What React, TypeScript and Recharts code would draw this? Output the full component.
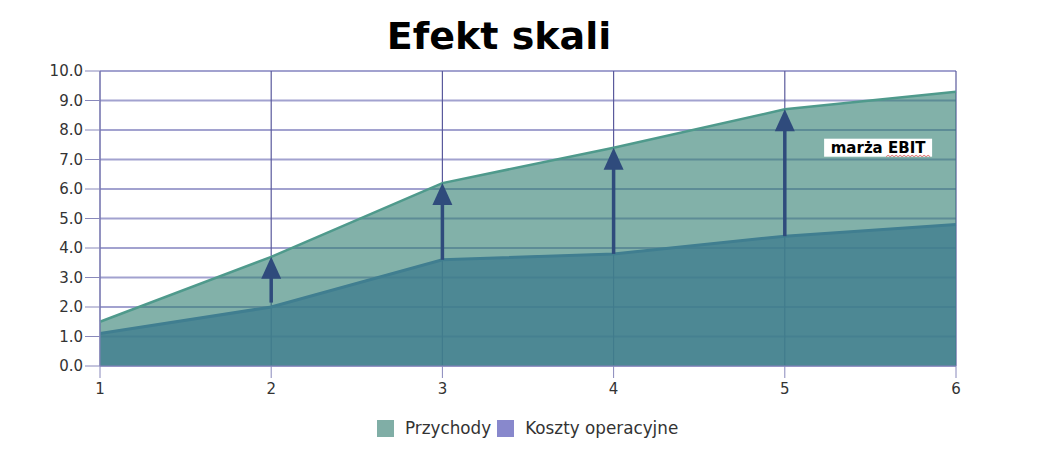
import {
  ComposedChart, Area, XAxis, YAxis, CartesianGrid,
  ReferenceLine, ReferenceDot,
} from 'recharts'

// Values.
const years = [1, 2, 3, 4, 5, 6]
const przychody = [1.5, 3.7, 6.2, 7.4, 8.7, 9.3]
const koszty = [1.1, 2.0, 3.6, 3.8, 4.4, 4.8]
const yTicks = [0, 1, 2, 3, 4, 5, 6, 7, 8, 9, 10]

// Margin arrows: drawn from the cost level up to revenue.
const arrowX = [2, 3, 4, 5]
const arrowFrom = [2.15, 3.6, 3.8, 4.4]
const arrowTo = [3.7, 6.2, 7.4, 8.7]

const FONT = '"DejaVu Sans", Verdana, sans-serif'
const ARROW = '#2f4b7c'

const data = years.map((x, i) => ({ x, przychody: przychody[i], koszty: koszty[i] }))

const legendItems = [
  { label: 'Przychody', color: '#80aea6' },
  { label: 'Koszty operacyjne', color: '#8888cc' },
]

function ArrowHead(props: any) {
  const { cx, cy } = props
  if (cx == null || cy == null) return null
  return <path d={`M${cx},${cy} L${cx - 10},${cy + 22} L${cx + 10},${cy + 22} Z`} fill={ARROW} />
}

function EbitLabel(props: any) {
  const { cx, cy } = props
  if (cx == null || cy == null) return null
  return (
    <g>
      <rect x={cx - 54} y={cy - 9} width={108} height={18} fill="#fff" />
      <text x={cx} y={cy + 5} textAnchor="middle" fontFamily={FONT} fontWeight="bold" fontSize={15} fill="#000">
        marża EBIT
      </text>
      <path
        d={`M${cx + 8},${cy + 9} l2,-1.5 l2,1.5 l2,-1.5 l2,1.5 l2,-1.5 l2,1.5 l2,-1.5 l2,1.5 l2,-1.5 l2,1.5 l2,-1.5 l2,1.5 l2,-1.5 l2,1.5 l2,-1.5 l2,1.5 l2,-1.5 l2,1.5 l2,-1.5 l2,1.5 l2,-1.5 l2,1.5`}
        stroke="#e05050" strokeWidth={0.8} fill="none"
      />
    </g>
  )
}

export default function App() {
  return (
    <div style={{ position: 'absolute', left: 0, top: 0, width: 1055, height: 474, background: '#fff' }}>
      <div style={{
        position: 'absolute', left: 0, top: 13, width: 998, textAlign: 'center',
        fontFamily: FONT, fontWeight: 'bold', fontSize: 38, lineHeight: '46px', color: '#000',
      }}>
        Efekt skali
      </div>
      <ComposedChart width={1055} height={474} data={data} margin={{ top: 71, right: 99, bottom: 78, left: 30 }}>
        {/* horizontal lines are light lavender, vertical ones a darker navy */}
        <CartesianGrid vertical={false} stroke="#a2a2cf" strokeWidth={1.8} />
        <CartesianGrid horizontal={false} stroke="#5a5a9c" strokeWidth={1.2} />
        <XAxis
          dataKey="x" type="number" domain={[1, 6]} ticks={years}
          stroke="#8888bb" tickSize={12} tickMargin={5}
          tick={{ fontFamily: FONT, fontSize: 15, fill: '#333' }}
          height={30}
        />
        <YAxis
          domain={[0, 10]} ticks={yTicks} width={70}
          stroke="#8888bb" tickSize={15}
          tickFormatter={(v) => Number(v).toFixed(1)}
          tick={{ fontFamily: FONT, fontSize: 15, fill: '#333' }}
        />
        <Area
          dataKey="koszty" name="Koszty operacyjne" type="linear"
          stroke="#5a7fc0" strokeWidth={3} fill="#5a80bd" fillOpacity={0.8}
          isAnimationActive={false} dot={false} activeDot={false}
        />
        <Area
          dataKey="przychody" name="Przychody" type="linear"
          stroke="#4f9a8c" strokeWidth={2.5} fill="#2f7d6f" fillOpacity={0.6}
          isAnimationActive={false} dot={false} activeDot={false}
        />
        {arrowX.map((x, i) => (
          <ReferenceLine
            key={`s${x}`}
            segment={[{ x, y: arrowFrom[i] }, { x, y: arrowTo[i] - 0.4 }]}
            stroke={ARROW} strokeWidth={3.5}
          />
        ))}
        {arrowX.map((x, i) => (
          <ReferenceDot key={`h${x}`} x={x} y={arrowTo[i]} r={1} shape={ArrowHead} />
        ))}
        <ReferenceDot x={5.545} y={7.4} r={1} shape={EbitLabel} />
      </ComposedChart>
      <div style={{
        position: 'absolute', top: 418, left: 377, display: 'flex', gap: 6,
        fontFamily: FONT, fontSize: 16.8, color: '#333',
      }}>
        {legendItems.map(it => (
          <div key={it.label} style={{ display: 'flex', alignItems: 'center', gap: 11 }}>
            <span style={{ width: 17, height: 17, background: it.color, display: 'inline-block' }} />
            <span>{it.label}</span>
          </div>
        ))}
      </div>
    </div>
  )
}
